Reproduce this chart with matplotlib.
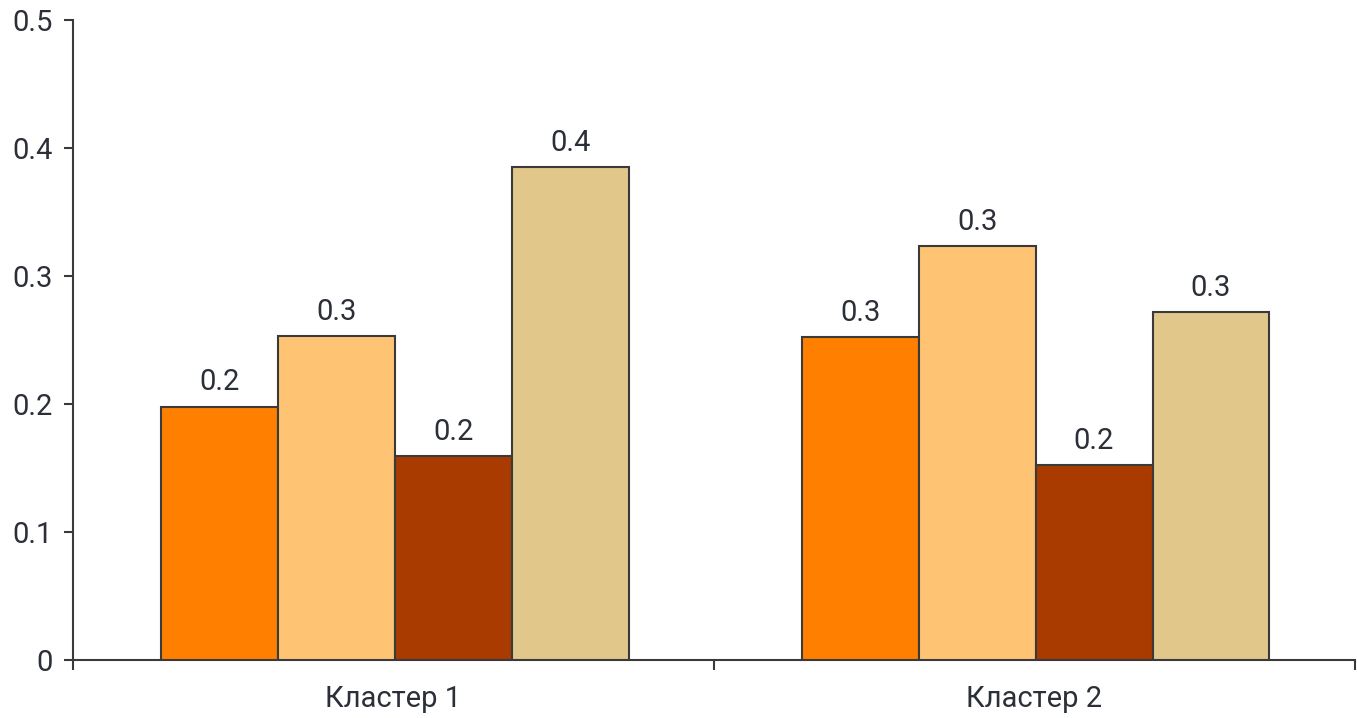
import numpy as np
import matplotlib.pyplot as plt
from matplotlib.ticker import FixedLocator, FixedFormatter

plt.rcParams['font.family'] = ['Roboto', 'DejaVu Sans']

# podaci
clusters = ['Кластер 1', 'Кластер 2']
s1 = [0.198, 0.252]
s2 = [0.253, 0.323]
s3 = [0.159, 0.152]
s4 = [0.385, 0.272]
series = [s1, s2, s3, s4]
colors = ['#FF7F00', '#FFC473', '#A93A00', '#E2C78A']
txt = '#2b2f38'

fig = plt.figure(figsize=(13.57, 7.18), dpi=100)
ax = fig.add_axes([0.0538, 0.0808, 0.9445, 0.8915])

x = np.arange(len(clusters))
w = 0.1825
for i, s in enumerate(series):
    pos = x + (i - 1.5) * w + 0.002
    bars = ax.bar(pos, s, w, color=colors[i], edgecolor='#3a3a3a', linewidth=1.5, zorder=3)
    for b, v in zip(bars, s):
        ax.text(b.get_x() + b.get_width() / 2, v + 0.008, '%.1f' % v,
                ha='center', va='bottom', fontsize=21, color=txt)

ax.set_xlim(-0.5, 1.5)
ax.set_ylim(0, 0.5)
ax.set_yticks([0, 0.1, 0.2, 0.3, 0.4, 0.5])
ax.set_yticklabels(['0', '0.1', '0.2', '0.3', '0.4', '0.5'])

# oznake kategorija izmedju crtica
ax.xaxis.set_major_locator(FixedLocator([-0.5, 0.5, 1.5]))
ax.xaxis.set_major_formatter(FixedFormatter(['', '', '']))
ax.xaxis.set_minor_locator(FixedLocator(x))
ax.xaxis.set_minor_formatter(FixedFormatter(clusters))
ax.tick_params(axis='x', which='minor', length=0, pad=18, labelsize=21, labelcolor=txt)
ax.tick_params(axis='x', which='major', length=7, width=1.5, color='#3a3a3a')
ax.tick_params(axis='y', length=6.5, width=1.5, color='#3a3a3a', labelsize=21, labelcolor=txt, pad=8)

ax.spines['top'].set_visible(False)
ax.spines['right'].set_visible(False)
for sp in ['left', 'bottom']:
    ax.spines[sp].set_linewidth(1.5)
    ax.spines[sp].set_color('#3a3a3a')

plt.savefig('out.png', dpi=100)
